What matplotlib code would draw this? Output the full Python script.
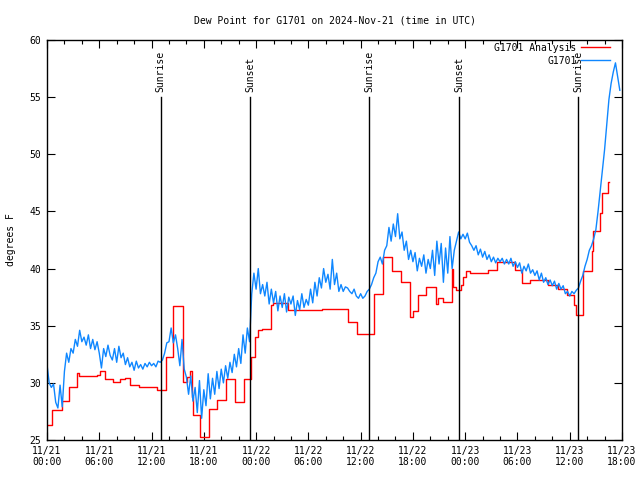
import datetime as dt
import numpy as np
import matplotlib
matplotlib.use("Agg")
import matplotlib.pyplot as plt

# --- Data (hours since 2024-11-21 00:00 UTC) ---

start = dt.datetime(2024, 11, 21, 0, 0)

# analysis: step changes (hour, dew point F)
analysis_hours = [0.0, 0.57, 1.72, 2.53, 3.44, 3.67, 5.74, 6.08, 6.66, 7.58, 8.38, 8.95,
                  9.53, 10.56, 12.63, 13.66, 14.46, 15.61, 16.07, 16.41, 16.64, 16.76,
                  17.56, 18.6, 19.5, 20.5, 21.6, 22.6, 23.4, 23.9, 24.2, 24.7, 25.7,
                  25.9, 27.7, 31.6, 34.6, 35.6, 37.5, 38.6, 39.6, 40.6, 41.7, 42.0,
                  42.6, 43.5, 44.65, 44.9, 45.5, 46.5, 46.6, 46.9, 47.5, 47.75, 48.1,
                  48.55, 50.6, 51.65, 53.7, 54.5, 55.4, 57.5, 58.65, 59.7, 60.5, 60.7,
                  61.5, 62.55, 62.7, 63.5, 63.7, 64.4, 64.5]
analysis_vals = [26.3, 27.6, 28.4, 29.6, 30.9, 30.6, 30.7, 31.0, 30.3, 30.1, 30.3, 30.4,
                 29.8, 29.6, 29.4, 32.3, 36.7, 30.1, 30.5, 31.0, 28.8, 27.2,
                 25.3, 27.7, 28.5, 30.3, 28.3, 30.3, 32.3, 34.0, 34.6, 34.7, 36.8,
                 37.0, 36.4, 36.5, 35.3, 34.3, 37.8, 41.0, 39.8, 38.8, 35.8, 36.3,
                 37.7, 38.4, 36.9, 37.4, 37.1, 40.0, 38.4, 38.1, 38.6, 39.3, 39.8,
                 39.6, 39.9, 40.6, 39.9, 38.7, 39.0, 38.6, 38.2, 37.7, 36.8, 35.9,
                 39.8, 41.5, 43.3, 44.9, 46.6, 47.6, 47.6]

# observations every 15 minutes
obs_step_h = 0.25
obs_vals = [
    31.6, 30.0, 29.6, 29.9,  28.3, 27.8, 29.8, 27.9,  31.0, 32.6, 31.8, 33.0,
    32.6, 33.8, 33.2, 34.6,  33.6, 34.0, 33.3, 34.2,  33.0, 33.8, 32.9, 33.6,
    32.6, 31.3, 33.0, 32.3,  33.3, 32.4, 32.0, 33.0,  31.8, 33.2, 32.2, 32.6,
    31.6, 32.2, 31.4, 31.8,  31.1, 31.9, 31.3, 31.6,  31.2, 31.7, 31.4, 31.8,
    31.5, 31.7, 31.4, 31.9,  31.8, 32.0, 32.6, 33.5,  33.6, 34.8, 33.5, 34.2,
    33.0, 31.5, 33.8, 31.2,  30.5, 29.0, 30.6, 28.4,  29.6, 27.4, 30.2, 26.9,
    29.4, 28.0, 30.8, 28.6,  30.4, 29.0, 31.0, 29.5,  31.2, 30.0, 31.5, 30.4,
    31.8, 30.9, 32.5, 31.4,  33.0, 31.7, 34.2, 32.6,  34.8, 33.6, 37.8, 39.6,
    38.2, 40.0, 37.8, 38.6,  37.6, 38.8, 36.9, 38.2,  37.0, 38.0, 36.3, 37.6,
    36.6, 37.8, 36.2, 37.5,  36.9, 37.6, 35.9, 37.2,  36.4, 37.8, 36.6, 37.3,
    36.8, 38.2, 37.0, 38.8,  37.6, 39.2, 38.3, 40.0,  38.8, 39.5, 38.2, 40.8,
    38.6, 39.6, 38.0, 38.6,  38.0, 38.4, 38.3, 38.0,  37.8, 38.2, 37.6, 37.4,
    37.8, 37.4, 37.6, 38.0,  38.2, 38.6, 39.2, 39.6,  40.6, 41.0, 40.4, 41.6,
    42.0, 43.6, 42.4, 43.9,  42.8, 44.8, 42.6, 43.2,  41.6, 42.4, 40.8, 41.6,
    40.6, 41.4, 39.8, 40.9,  40.2, 41.2, 39.6, 40.8,  40.0, 41.6, 39.4, 42.4,
    40.4, 42.2, 38.8, 41.8,  39.6, 42.8, 40.0, 41.6,  42.4, 43.2, 42.6, 43.0,
    42.6, 43.1, 42.3, 42.0,  41.6, 42.0, 41.2, 41.7,  41.0, 41.5, 40.8, 41.2,
    40.6, 41.0, 40.5, 40.9,  40.6, 40.9, 40.4, 40.8,  40.4, 40.9, 40.2, 40.6,
    40.1, 40.5, 39.6, 40.2,  39.8, 40.4, 39.6, 39.9,  39.4, 39.8, 39.0, 39.6,
    38.8, 39.2, 38.6, 39.0,  38.5, 38.9, 38.2, 38.7,  38.2, 38.5, 37.8, 38.0,
    37.6, 38.0, 37.8, 38.1,  38.3, 38.9, 39.4, 40.2,  40.8, 41.6, 42.0, 42.6,
    43.4, 45.0, 46.8, 48.6,  50.4, 52.6, 54.8, 56.2,  57.2, 58.0, 56.8, 55.6,
]

# sun events (hours)
sun_hours = [13.03, 23.3, 36.98, 47.33, 60.98]
sun_labels = ["Sunrise", "Sunset", "Sunrise", "Sunset", "Sunrise"]

x_major = list(range(0, 67, 6))
x_minor = list(range(0, 67, 2))
y_ticks = [25, 30, 35, 40, 45, 50, 55, 60]

# --- Plot ---

plt.rcParams["font.family"] = "DejaVu Sans Mono"
plt.rcParams["font.size"] = 7

fig = plt.figure(figsize=(6.4, 4.8), dpi=100)
ax = fig.add_axes([47 / 640, 40 / 480, 575 / 640, 400 / 480])

obs_hours = np.arange(len(obs_vals)) * obs_step_h
ax.plot(analysis_hours, analysis_vals, color="#ff0000", lw=1.0,
        drawstyle="steps-post", label="G1701 Analysis")
ax.plot(obs_hours, obs_vals, color="#0f87ff", lw=1.0, label="G1701")

for h, lab in zip(sun_hours, sun_labels):
    ax.plot([h, h], [25, 55.0], color="black", lw=1.0)
    ax.text(h, 55.45, lab, rotation=90, ha="center", va="bottom", fontsize=7)

ax.set_xlim(0, 66)
ax.set_ylim(25, 60)
ax.set_xticks(x_major)
ax.set_xticks(x_minor, minor=True)
ax.set_xticklabels([(start + dt.timedelta(hours=h)).strftime("%m/%d\n%H:%M")
                    for h in x_major])
ax.set_yticks(y_ticks)
ax.tick_params(which="both", direction="in", top=True, right=True, width=0.8)
ax.tick_params(which="major", length=6, pad=4)
ax.tick_params(which="minor", length=3)
for s in ax.spines.values():
    s.set_linewidth(1.0)

ax.set_ylabel("degrees F", fontsize=7, labelpad=10)
ax.set_title("Dew Point for G1701 on 2024-Nov-21 (time in UTC)", fontsize=7, pad=12)
ax.legend(loc="upper right", bbox_to_anchor=(0.99, 1.008), frameon=False,
          markerfirst=False, handlelength=3.0, borderaxespad=0.2,
          labelspacing=0.3, handletextpad=0.5, fontsize=7)

fig.savefig("out.png", dpi=100)
